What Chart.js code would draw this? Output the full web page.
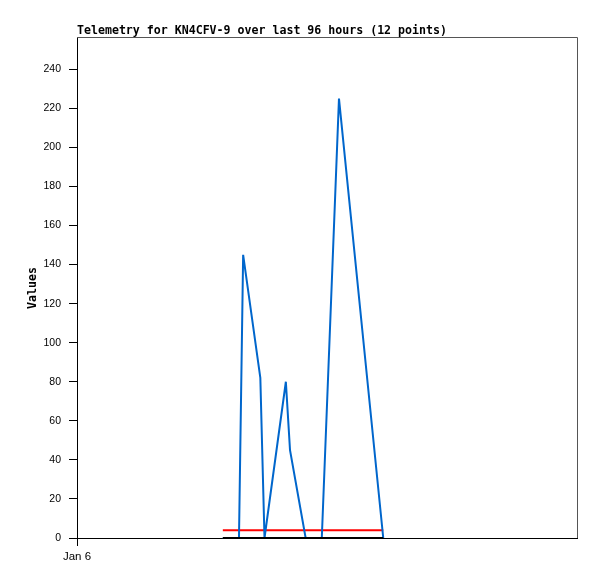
<!DOCTYPE html>
<html>
<head>
<meta charset="UTF-8">
<title>Telemetry for KN4CFV-9</title>
<script src="https://cdn.jsdelivr.net/npm/chart.js"></script>
<style>
  body { margin: 0; background: #fff; }
  canvas { display: block; }
</style>
</head>
<body>
<canvas id="chart" width="597" height="579"></canvas>
<script>
    // hours since Jan 6 00:00
    const TIMES = [28.0, 31.1, 31.9, 35.2, 36.0, 40.1, 40.9, 43.9, 47.0, 50.3, 58.8];
    const BLUE_VALUES = [0, 0, 145, 82, 0, 80, 45, 0, 0, 225, 0];
    const RED_VALUES = [4, 4, 4, 4, 4, 4, 4, 4, 4, 4, 4];
    const BLACK_VALUES = [0, 0, 0, 0, 0, 0, 0, 0, 0, 0, 0];
    const Y_TICKS = [0, 20, 40, 60, 80, 100, 120, 140, 160, 180, 200, 220, 240];
    const X_TICKS = [0];
    const X_LABELS = ['Jan 6'];

    const toPoints = vals => vals.map((v, i) => ({ x: TIMES[i], y: v }));

    const monoBold = { family: '"DejaVu Sans Mono", monospace', weight: 'bold', size: 11.6 };
    const tickFont = { family: '"Liberation Sans", Arial, sans-serif', size: 10.5 };

    // top and right edges of the plot box
    const frame = {
        id: 'frame',
        afterDraw(chart) {
            const { ctx, chartArea: a } = chart;
            ctx.save();
            ctx.strokeStyle = '#555';
            ctx.lineWidth = 1;
            ctx.beginPath();
            ctx.moveTo(Math.round(a.left), Math.round(a.top) - 0.5);
            ctx.lineTo(Math.round(a.right) + 0.5, Math.round(a.top) - 0.5);
            ctx.lineTo(Math.round(a.right) + 0.5, Math.round(a.bottom));
            ctx.stroke();
            ctx.restore();
        }
    };

    const line = (data, color) => ({
        data: toPoints(data),
        borderColor: color,
        borderWidth: 2,
        pointRadius: 0,
        tension: 0,
        fill: false,
        clip: 4
    });

    // first dataset ends up on top
    new Chart(document.getElementById('chart'), {
        type: 'line',
        data: {
            datasets: [
                line(BLACK_VALUES, '#000000'),
                line(BLUE_VALUES, '#0066cc'),
                line(RED_VALUES, '#ff0000')
            ]
        },
        plugins: [frame],
        options: {
            responsive: false,
            animation: false,
            layout: { padding: { left: 0, right: 20, top: 0, bottom: 0 } },
            plugins: {
                legend: { display: false },
                tooltip: { enabled: false },
                title: {
                    display: true,
                    text: 'Telemetry for KN4CFV-9 over last 96 hours (12 points)',
                    align: 'start',
                    fullSize: false,
                    color: '#000',
                    font: monoBold,
                    padding: { top: 24, bottom: 0.1 }
                }
            },
            scales: {
                x: {
                    type: 'linear',
                    min: 0,
                    max: 96,
                    afterBuildTicks: s => { s.ticks = X_TICKS.map(v => ({ value: v })); },
                    afterFit: s => { s.height = 41; },
                    ticks: {
                        color: '#000',
                        font: { family: '"Liberation Sans", Arial, sans-serif', size: 11.5 },
                        padding: 4,
                        maxRotation: 0,
                        callback: v => X_LABELS[X_TICKS.indexOf(v)]
                    },
                    grid: { drawOnChartArea: false, color: '#000', tickLength: 8 },
                    border: { color: '#000', width: 1 }
                },
                y: {
                    min: 0,
                    max: 256,
                    afterBuildTicks: s => { s.ticks = Y_TICKS.map(v => ({ value: v })); },
                    afterFit: s => { s.width = 77; },
                    ticks: { color: '#000', font: tickFont, padding: 8 },
                    grid: { drawOnChartArea: false, color: '#000', tickLength: 8 },
                    border: { color: '#000', width: 1 },
                    title: {
                        display: true,
                        text: 'Values',
                        color: '#000',
                        font: monoBold,
                        padding: { top: 26, bottom: 0 }
                    }
                }
            }
        }
    });
</script>
</body>
</html>
